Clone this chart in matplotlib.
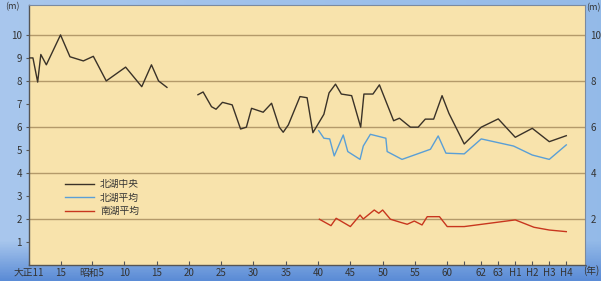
import numpy as np
import matplotlib
matplotlib.use("Agg")
import matplotlib.pyplot as plt

plt.rcParams['font.family'] = ['Noto Sans CJK JP', 'DejaVu Sans']

# ---- data (year, depth m) ----
north_center_a_years = [1922.0, 1922.5, 1923.1, 1923.5, 1924.2, 1926.0, 1927.2, 1928.9,
                        1930.2, 1932.2, 1935.2, 1937.7, 1939.2, 1940.3, 1941.6]
north_center_a_vals = [9.0, 9.0, 7.95, 9.15, 8.7, 10.0, 9.05, 8.87,
                       9.07, 8.0, 8.6, 7.75, 8.7, 8.0, 7.72]

north_center_b_years = [1946.4, 1947.2, 1948.5, 1949.2, 1950.2, 1951.7, 1953.0, 1953.9,
                        1954.7, 1956.5, 1957.8, 1959.0, 1959.6, 1960.4, 1962.2, 1963.3,
                        1964.2, 1965.9, 1966.7, 1967.7, 1968.6, 1970.2, 1971.6, 1972.1,
                        1973.5, 1974.5, 1976.7, 1977.6, 1979.3, 1980.5, 1981.6, 1982.9,
                        1984.2, 1985.1, 1986.0, 1987.0, 1988.0, 1989.0, 1990.0, 1991.0, 1992.0]
north_center_b_vals = [7.4, 7.52, 6.88, 6.77, 7.07, 6.96, 5.91, 5.99,
                       6.81, 6.64, 7.03, 5.99, 5.77, 6.09, 7.32, 7.27,
                       5.75, 6.55, 7.48, 7.86, 7.43, 7.36, 5.99, 7.43,
                       7.43, 7.83, 6.27, 6.38, 5.99, 5.99, 6.34, 6.34,
                       7.36, 6.59, 5.26, 5.99, 6.35, 5.55, 5.94, 5.36, 5.62]

north_avg_years = [1965.1, 1965.9, 1966.8, 1967.5, 1968.9, 1969.6, 1971.5, 1972.0,
                   1973.1, 1975.5, 1975.7, 1978.0, 1982.4, 1983.6, 1984.8, 1986.0,
                   1987.0, 1988.9, 1990.0, 1991.0, 1992.0]
north_avg_vals = [5.84, 5.51, 5.48, 4.74, 5.65, 4.93, 4.59, 5.17,
                  5.68, 5.51, 4.93, 4.59, 5.03, 5.61, 4.86, 4.83,
                  5.48, 5.17, 4.78, 4.59, 5.22]

south_avg_years = [1965.2, 1967.0, 1967.8, 1970.0, 1971.5, 1972.0, 1973.7, 1974.4,
                   1975.0, 1976.2, 1977.7, 1978.8, 1979.9, 1981.1, 1981.9, 1983.8,
                   1985.0, 1986.0, 1989.0, 1990.1, 1991.0, 1992.0]
south_avg_vals = [1.99, 1.71, 2.03, 1.67, 2.17, 2.0, 2.39, 2.25,
                  2.39, 1.99, 1.86, 1.77, 1.91, 1.74, 2.10, 2.10,
                  1.67, 1.67, 1.96, 1.64, 1.52, 1.45]

series_labels = ['北湖中央', '北湖平均', '南湖平均']

x_tick_years = [1922, 1926, 1930, 1935, 1940, 1945, 1950, 1955, 1960, 1965, 1970,
                1975, 1980, 1985, 1986, 1987, 1988, 1989, 1990, 1991, 1992]
x_tick_labels = ['大正11', '15', '昭和5', '10', '15', '20', '25', '30', '35', '40', '45',
                 '50', '55', '60', '', '62', '63', 'H1', 'H2', 'H3', 'H4']
left_ticks = [1, 2, 3, 4, 5, 6, 7, 8, 9, 10]
right_ticks = [2, 4, 6, 8, 10]

# ---- piecewise x scale (axis is compressed before 1985) ----
_bp_years = np.array([1900.0, 1922.0, 1930.0, 1985.0, 2010.0])
_bp_pos = np.array([-173.25, 0.0, 63.0, 418.0, 418.0 + 25 * 17.0])


def fwd(x):
    return np.interp(x, _bp_years, _bp_pos)


def inv(p):
    return np.interp(p, _bp_pos, _bp_years)


W, H = 601, 281
fig = plt.figure(figsize=(W / 100, H / 100), dpi=100)

# background sky gradient
bg = fig.add_axes([0, 0, 1, 1], zorder=-10)
xx, yy = np.meshgrid(np.linspace(0, 1, 200), np.linspace(0, 1, 100))
c_left = np.array([0.66, 0.78, 0.93])
c_right = np.array([0.58, 0.73, 0.91])
c_bottom = np.array([0.36, 0.55, 0.84])
img = c_left[None, None, :] * (1 - xx[..., None]) + c_right[None, None, :] * xx[..., None]
mix = np.clip((yy - 0.86) / 0.14, 0, 1)[..., None]
img = img * (1 - mix) + c_bottom[None, None, :] * mix
bg.imshow(img, aspect='auto', extent=[0, 1, 0, 1], origin='upper')
bg.axis('off')

ax = fig.add_axes([29 / W, 16 / H, 556 / W, 260 / H])
ax.set_facecolor('#f8e3ac')
ax.set_xscale('function', functions=(fwd, inv))
ax.set_xlim(1922, 1993.1)
ax.set_ylim(0, 11.3)

for g in right_ticks:
    ax.axhline(g, color='#b49a6a', lw=1.0, zorder=1)

ax.plot(north_center_a_years, north_center_a_vals, color='#3a3228', lw=1.0, zorder=3,
        label=series_labels[0])
ax.plot(north_center_b_years, north_center_b_vals, color='#3a3228', lw=1.0, zorder=3)
ax.plot(north_avg_years, north_avg_vals, color='#5a9fd6', lw=1.0, zorder=3,
        label=series_labels[1])
ax.plot(south_avg_years, south_avg_vals, color='#c8361e', lw=1.0, zorder=3,
        label=series_labels[2])

ax.set_xticks(x_tick_years)
ax.set_xticklabels(x_tick_labels)
ax.set_yticks(left_ticks)
ax.tick_params(axis='x', direction='in', length=3, width=0.8, colors='#555555',
               labelsize=7, pad=2, labelcolor='#333333')
ax.tick_params(axis='y', direction='out', length=2, width=0.8, colors='#555555',
               labelsize=7, pad=3, labelcolor='#333333')
for s in ['left', 'bottom']:
    ax.spines[s].set_color('#555555')
    ax.spines[s].set_linewidth(1.0)
for s in ['top', 'right']:
    ax.spines[s].set_color('#7a8aa0')
    ax.spines[s].set_linewidth(0.8)

ax2 = ax.twinx()
ax2.set_ylim(0, 11.3)
ax2.set_yticks(right_ticks)
ax2.tick_params(axis='y', length=0, pad=4, labelsize=7, labelcolor='#333333')
for s in ax2.spines.values():
    s.set_visible(False)

fig.text(12 / W, 1 - 7 / H, '(m)', fontsize=6.5, color='#333333', ha='center', va='center')
fig.text(593 / W, 1 - 8 / H, '(m)', fontsize=6.5, color='#333333', ha='center', va='center')
fig.text(591 / W, 1 - 271 / H, '(年)', fontsize=7, color='#333333', ha='center', va='center')

leg = ax.legend(loc='upper left', bbox_to_anchor=(0.058, 0.345), frameon=False,
                fontsize=7, handlelength=3.0, handletextpad=0.6, labelspacing=0.35,
                borderaxespad=0)
for t in leg.get_texts():
    t.set_color('#333333')

fig.savefig('out.png', dpi=100)
